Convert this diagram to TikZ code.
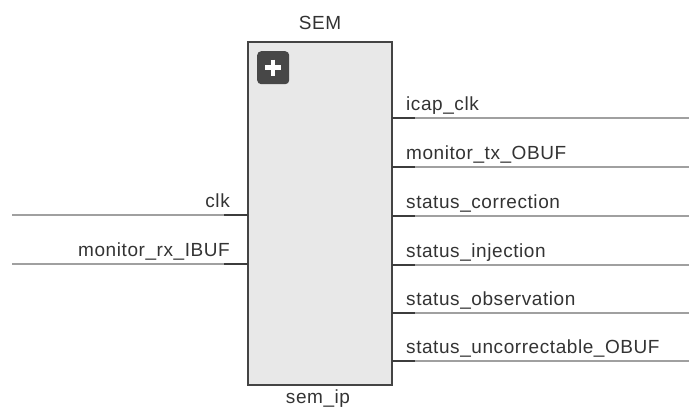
\documentclass[tikz,border=0pt]{standalone}
\usepackage{fontspec}
\setmainfont{Liberation Sans}[LetterSpace=3]
\usetikzlibrary{calc}
\definecolor{labelgray}{HTML}{333333}
\definecolor{wiregray}{HTML}{A0A0A0}
\definecolor{stubgray}{HTML}{3C3C3C}
\definecolor{cellfill}{HTML}{E8E8E8}
\definecolor{cellline}{HTML}{444444}
\definecolor{iconfill}{HTML}{474747}
\tikzset{
  cell/.style={draw=cellline, line width=1.4pt, fill=cellfill, inner sep=0pt, outer sep=0pt},
  icon/.style={fill=iconfill, rounded corners=4pt, inner sep=0pt, minimum width=32pt, minimum height=33pt},
  wire/.style={draw=wiregray, line width=1.1pt},
  stub/.style={draw=stubgray, line width=1.4pt},
  pinlabel/.style={text=labelgray, font=\fontsize{19}{22}\selectfont, inner sep=0pt},
}
\begin{document}
\begin{tikzpicture}[x=1pt, y=-1pt]
\useasboundingbox (0,0) rectangle (689,408);

% cell body
\node[cell, anchor=north west, minimum width=144pt, minimum height=343pt] (sem) at (248,42) {};
\node[pinlabel, anchor=base] (title) at (320,29) {SEM};
\node[pinlabel, anchor=base] (inst) at (318,403) {sem\_ip};

% expand icon
\node[icon, anchor=north west] (plus) at (257,51) {};
\draw[white, line width=4.5pt] ($(plus.center)+(-8,0)$) -- ($(plus.center)+(8,0)$);
\draw[white, line width=4.5pt] ($(plus.center)+(0,-8)$) -- ($(plus.center)+(0,8)$);

% input pins
\foreach \name/\y/\txt in {iclk/215/clk, irx/264/monitor\_rx\_IBUF} {
  \coordinate (\name-pin) at (248,\y);
  \coordinate (\name-end) at (12,\y);
  \draw[wire] (\name-pin) -- (\name-end);
  \draw[stub] (\name-pin) -- ++(-24,0);
  \node[pinlabel, anchor=base east] (\name-lbl) at (230,\y-8) {\txt};
}

% output pins
\foreach \name/\y/\txt in {oicap/118/icap\_clk, otx/167/monitor\_tx\_OBUF,
    ocorr/216/status\_correction, oinj/265/status\_injection,
    oobs/313/status\_observation, ounc/361/status\_uncorrectable\_OBUF} {
  \coordinate (\name-pin) at (392,\y);
  \coordinate (\name-end) at (689,\y);
  \draw[wire] (\name-pin) -- (\name-end);
  \draw[stub] (\name-pin) -- ++(23,0);
  \node[pinlabel, anchor=base west] (\name-lbl) at (406,\y-8) {\txt};
}
\end{tikzpicture}
\end{document}
